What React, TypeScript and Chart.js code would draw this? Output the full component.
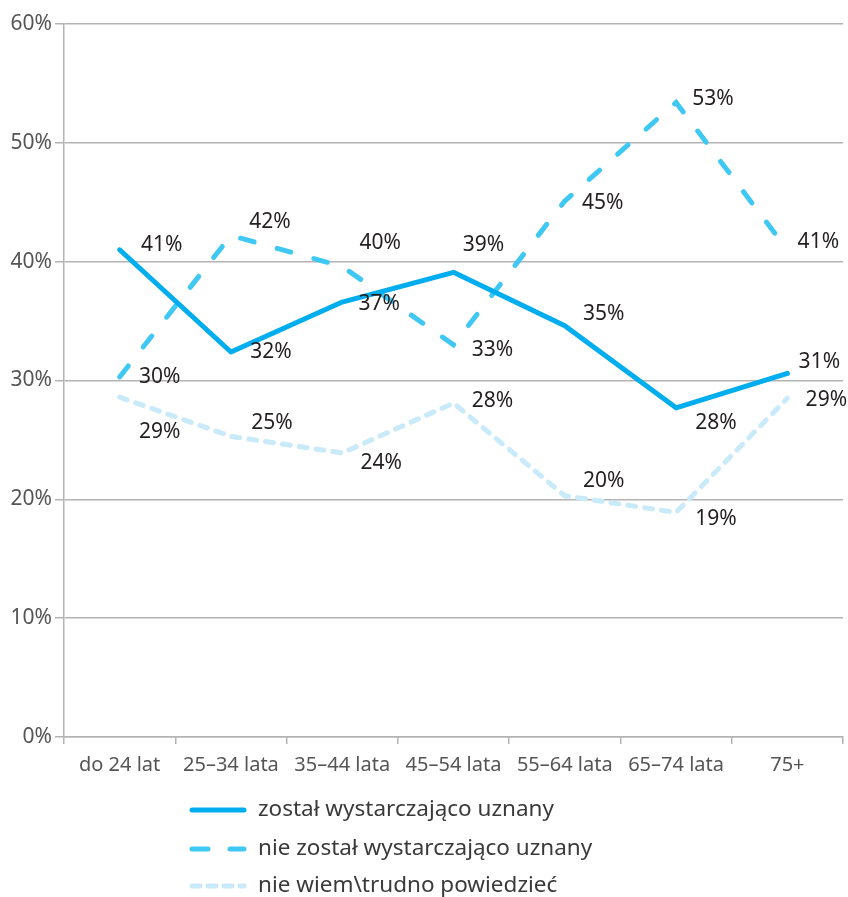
import React, { useEffect, useRef } from "react";
import { Chart, registerables } from "chart.js";

Chart.register(...registerables);

const categories = ["do 24 lat", "25–34 lata", "35–44 lata", "45–54 lata", "55–64 lata", "65–74 lata", "75+"];
const seriesNames = ["został wystarczająco uznany", "nie został wystarczająco uznany", "nie wiem\\trudno powiedzieć"];
const uznany = [41.0, 32.4, 36.6, 39.1, 34.6, 27.7, 30.6];
const nieUznany = [30.3, 42.2, 39.6, 33.0, 45.1, 53.4, 41.0];
const nieWiem = [28.6, 25.3, 23.9, 28.1, 20.3, 18.9, 28.5];
const uznanyLabels = ["41%", "32%", "37%", "39%", "35%", "28%", "31%"];
const nieUznanyLabels = ["30%", "42%", "40%", "33%", "45%", "53%", "41%"];
const nieWiemLabels = ["29%", "25%", "24%", "28%", "20%", "19%", "29%"];
const yTicks = [0, 10, 20, 30, 40, 50, 60];

// label placement offsets (style, px)
const labelOffsets = [
  [[42, -5], [40, 0], [37, 2], [30, -27], [39, -12], [40, 15], [32, -11]],
  [[40, 0], [39, -14], [38, -23], [39, 5], [38, 2], [37, -3], [31, -8]],
  [[40, 35], [41, -13], [39, 10], [39, -2], [39, -15], [40, 7], [39, 2]],
];

const FONT = "'Noto Sans', Lato, sans-serif";

const labelPlugin = {
  id: "valueLabels",
  afterDatasetsDraw(chart: any) {
    const ctx = chart.ctx;
    ctx.save();
    ctx.font = `21px ${FONT}`;
    ctx.fillStyle = "#231f20";
    ctx.textAlign = "center";
    ctx.textBaseline = "middle";
    chart.data.datasets.forEach((ds: any, di: number) => {
      const meta = chart.getDatasetMeta(di);
      meta.data.forEach((pt: any, i: number) => {
        const [dx, dy] = labelOffsets[di][i];
        ctx.fillText(ds.valueLabels[i], pt.x + dx, pt.y + dy);
      });
    });
    ctx.restore();
  },
};

const legendPlugin = {
  id: "customLegend",
  afterDraw(chart: any) {
    const ctx = chart.ctx;
    const rows = [810, 849, 886];
    ctx.save();
    chart.data.datasets.forEach((ds: any, i: number) => {
      const y = rows[i];
      ctx.beginPath();
      ctx.strokeStyle = ds.borderColor;
      ctx.lineWidth = ds.borderWidth;
      ctx.lineCap = "round";
      ctx.setLineDash(ds.legendDash);
      ctx.moveTo(192, y);
      ctx.lineTo(244, y);
      ctx.stroke();
      ctx.setLineDash([]);
      ctx.font = `22.5px ${FONT}`;
      ctx.fillStyle = "#3a3a3a";
      ctx.textAlign = "left";
      ctx.textBaseline = "middle";
      ctx.fillText(ds.label, 258, y);
    });
    ctx.restore();
  },
};

export default function App() {
  const ref = useRef<HTMLCanvasElement>(null);
  useEffect(() => {
    document.body.style.margin = "0";
    const chart = new Chart(ref.current!, {
      type: "line",
      data: {
        labels: categories,
        datasets: [
          {
            label: seriesNames[0],
            data: uznany,
            borderColor: "#00aeef",
            borderWidth: 5,
            pointRadius: 0,
            borderJoinStyle: "round",
            borderCapStyle: "round",
            valueLabels: uznanyLabels,
            legendDash: [],
          } as any,
          {
            label: seriesNames[1],
            data: nieUznany,
            borderColor: "#40c8f4",
            borderWidth: 5,
            pointRadius: 0,
            borderDash: [14, 24],
            borderCapStyle: "round",
            valueLabels: nieUznanyLabels,
            legendDash: [16, 22],
          } as any,
          {
            label: seriesNames[2],
            data: nieWiem,
            borderColor: "#c8eaf9",
            borderWidth: 5,
            pointRadius: 0,
            borderDash: [8, 9],
            borderCapStyle: "round",
            valueLabels: nieWiemLabels,
            legendDash: [8, 8],
          } as any,
        ],
      },
      options: {
        responsive: false,
        animation: false,
        layout: { padding: { top: 24, right: 5, left: 0, bottom: 0 } },
        plugins: { legend: { display: false }, tooltip: { enabled: false } },
        scales: {
          x: {
            offset: true,
            grid: {
              offset: true,
              drawOnChartArea: false,
              drawTicks: true,
              tickLength: 7,
              color: "#b3b3b3",
              lineWidth: 1.5,
            },
            border: { color: "#b3b3b3", width: 1.5 },
            ticks: { color: "#555", font: { family: FONT, size: 20 }, padding: 9, maxRotation: 0 },
            afterFit: (s: any) => {
              s.height = 897 - 737;
            },
          },
          y: {
            min: 0,
            max: 60,
            afterBuildTicks: (s: any) => {
              s.ticks = yTicks.map((v) => ({ value: v }));
            },
            grid: { color: "#b3b3b3", lineWidth: 1.5, tickLength: 9 },
            border: { color: "#b3b3b3", width: 1.5 },
            ticks: {
              color: "#555",
              font: { family: FONT, size: 21 },
              padding: 3,
              callback: (v: any) => v + "%",
            },
            afterFit: (s: any) => {
              s.width = 64;
            },
          },
        },
      },
      plugins: [labelPlugin, legendPlugin],
    });
    return () => chart.destroy();
  }, []);
  return (
    <div style={{ width: 848, height: 897, overflow: "hidden" }}>
      <canvas ref={ref} width={848} height={897} style={{ display: "block" }} />
    </div>
  );
}
